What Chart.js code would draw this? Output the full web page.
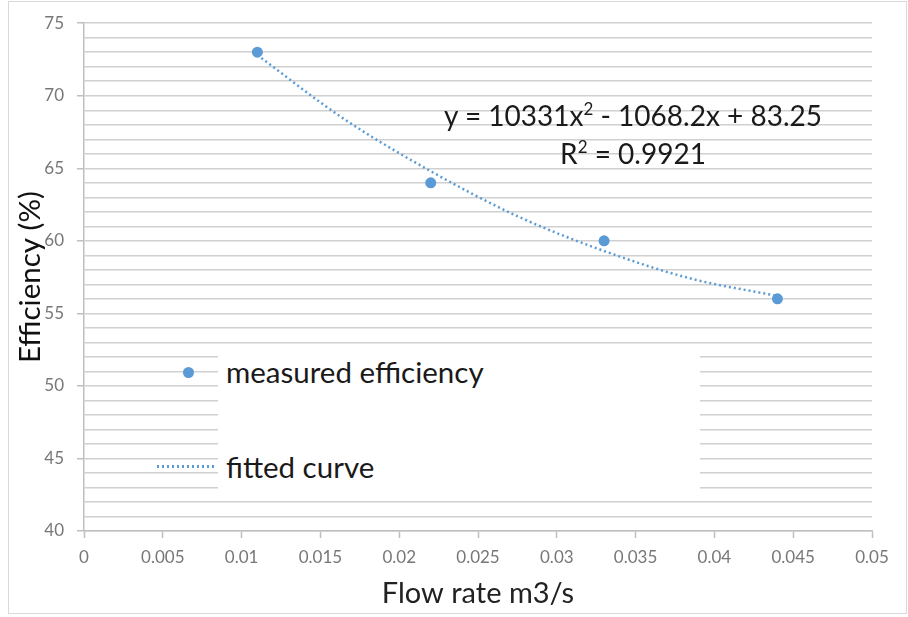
<!DOCTYPE html>
<html>
<head>
<meta charset="utf-8">
<script src="https://cdn.jsdelivr.net/npm/chart.js@4"></script>
<style>
body { margin: 0; background: #fff; font-family: Lato, sans-serif; }
#wrap { position: relative; width: 908px; height: 617px; }
#frame { position: absolute; left: 8px; top: 1px; width: 897px; height: 611px; border: 1.5px solid #d9d9d9; pointer-events: none; }
#legendBox { position: absolute; left: 218px; top: 346px; width: 482px; height: 147px; background: #fff; }
.legText { position: absolute; left: 226px; font-size: 29.5px; color: #1a1a1a; line-height: 32px; white-space: nowrap; }
#legMarker { position: absolute; left: 183px; top: 367px; width: 11px; height: 11px; border-radius: 50%; background: #5b9bd5; }
#legLine { position: absolute; left: 157px; top: 465px; width: 58px; height: 2.5px;
  background: repeating-linear-gradient(90deg, #5b9bd5 0 2px, transparent 2px 5px); }
#eq { position: absolute; left: 383px; top: 96px; width: 500px; text-align: center; font-size: 28px; color: #1a1a1a; line-height: 38px; white-space: nowrap; }
#eq sup { font-size: 17px; vertical-align: 11px; line-height: 0; }
</style>
</head>
<body>
<div id="wrap">
  <canvas id="chart" width="908" height="617"></canvas>
  <div id="legendBox"></div>
  <div id="legMarker"></div>
  <div id="legLine"></div>
  <div class="legText" id="leg0" style="top:356px"></div>
  <div class="legText" id="leg1" style="top:451px"></div>
  <div id="eq">y = 10331x<sup>2</sup> - 1068.2x + 83.25<br>R<sup>2</sup> = 0.9921</div>
  <div id="frame"></div>
</div>
<script>
// measured points
const flowRates = [0.011, 0.022, 0.033, 0.044]
const efficiency = [73, 64, 60, 56]

// fitted curve
const fitX = [0.011, 0.0165, 0.022, 0.0275, 0.033, 0.0385, 0.044]
const fitY = [72.8, 68.4, 64.8, 61.7, 59.3, 57.4, 56.2]

const seriesNames = ['measured efficiency', 'fitted curve']

const blue = '#5b9bd5'
const gridGrey = '#d0d0d0'
const tickGrey = '#777777'

let measured = []
for (let i = 0; i < flowRates.length; i++) {
    measured.push({x: flowRates[i], y: efficiency[i]})
}
let fitted = []
for (let i = 0; i < fitX.length; i++) {
    fitted.push({x: fitX[i], y: fitY[i]})
}

const ctx = document.getElementById('chart')

const myChart = new Chart(ctx, {
    type: 'scatter',
    data: {
        datasets: [
            {
                label: seriesNames[0],
                data: measured,
                backgroundColor: blue,
                borderWidth: 0,
                pointRadius: 5.5,
                order: 1
            },
            {
                label: seriesNames[1],
                data: fitted,
                type: 'line',
                showLine: true,
                borderColor: blue,
                borderWidth: 2.5,
                borderDash: [2, 3],
                cubicInterpolationMode: 'monotone',
                pointRadius: 0,
                fill: false,
                order: 2
            }
        ]
    },
    options: {
        responsive: false,
        animation: false,
        layout: { padding: { left: 0, top: 22, right: 36, bottom: 0 } },
        plugins: { legend: { display: false }, tooltip: { enabled: false } },
        scales: {
            x: {
                type: 'linear',
                min: 0,
                max: 0.05,
                afterFit: function(s) { s.height = 86 },
                border: { color: '#bfbfbf', width: 1.5 },
                grid: { drawOnChartArea: false, tickLength: 7, tickColor: '#bfbfbf', tickWidth: 1.5 },
                ticks: {
                    stepSize: 0.005,
                    padding: 9,
                    color: tickGrey,
                    font: { family: 'Lato', size: 17 },
                    maxRotation: 0,
                    callback: function(v) { return String(Number(v.toFixed(3))) }
                },
                title: {
                    display: true,
                    text: 'Flow rate m3/s',
                    color: '#222222',
                    font: { family: 'Lato', size: 29 },
                    padding: { top: 0, bottom: 6 }
                }
            },
            y: {
                min: 40,
                max: 75,
                afterFit: function(s) { s.width = 84 },
                border: { color: '#bfbfbf', width: 1.5 },
                grid: {
                    color: gridGrey,
                    lineWidth: 1.5,
                    tickLength: 7,
                    tickWidth: 1.5,
                    tickColor: function(c) { return c.tick && c.tick.value % 5 === 0 ? '#bfbfbf' : 'rgba(0,0,0,0)' }
                },
                ticks: {
                    stepSize: 1,
                    autoSkip: false,
                    padding: 13,
                    color: tickGrey,
                    font: { family: 'Lato', size: 17 },
                    callback: function(v) { return v % 5 === 0 ? String(v) : '' }
                },
                title: {
                    display: true,
                    text: 'Efficiency (%)',
                    color: '#111111',
                    font: { family: 'Lato', size: 29.5 },
                    padding: { top: 13, bottom: 0 }
                }
            }
        }
    }
})

// legend labels come from the dataset names
document.getElementById('leg0').textContent = myChart.data.datasets[0].label
document.getElementById('leg1').textContent = myChart.data.datasets[1].label
</script>
</body>
</html>
